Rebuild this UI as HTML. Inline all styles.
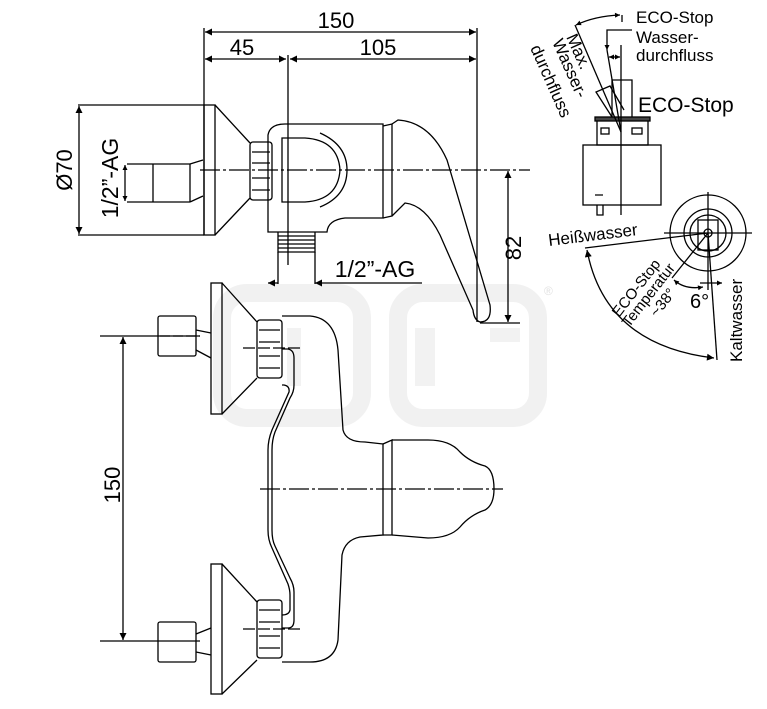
<!DOCTYPE html>
<html><head><meta charset="utf-8"><style>
html,body{margin:0;padding:0;background:#fff;}
svg{display:block;font-family:"Liberation Sans",Arial,sans-serif;}
</style></head><body>
<svg width="767" height="709" viewBox="0 0 767 709" xmlns="http://www.w3.org/2000/svg">
<defs>
<marker id="a" viewBox="0 0 10 10" refX="10" refY="5" markerWidth="10" markerHeight="7" orient="auto-start-reverse" markerUnits="userSpaceOnUse"><path d="M0,0 L10,5 L0,10z" fill="#000"/></marker>
<marker id="s" viewBox="0 0 10 10" refX="10" refY="5" markerWidth="7" markerHeight="5" orient="auto-start-reverse" markerUnits="userSpaceOnUse"><path d="M0,0 L10,5 L0,10z" fill="#000"/></marker>
</defs>
<!-- watermark -->
<g fill="none" stroke="#f1f1f1" stroke-width="18">
<rect x="222" y="293" width="140" height="125" rx="25"/>
<rect x="398" y="293" width="140" height="125" rx="25"/>
</g>
<g fill="#f2f2f2"><rect x="287" y="328" width="14" height="58"/><rect x="415" y="328" width="20" height="58"/><rect x="490" y="328" width="30" height="14"/></g>
<text x="544" y="295" font-size="12" fill="#e2e2e2">®</text>

<g stroke="#000" fill="none" stroke-width="1.3">
<!-- top dims -->
<line x1="204" y1="28" x2="204" y2="235"/>
<line x1="477" y1="28" x2="477" y2="322"/>
<line x1="205" y1="32" x2="476" y2="32" marker-start="url(#a)" marker-end="url(#a)"/>
<line x1="205" y1="59" x2="286" y2="59" marker-start="url(#a)" marker-end="url(#a)"/>
<line x1="290" y1="59" x2="476" y2="59" marker-start="url(#a)" marker-end="url(#a)"/>
<line x1="288" y1="55" x2="288" y2="265"/>
<!-- Ø70 -->
<line x1="78" y1="105" x2="204" y2="105"/>
<line x1="78" y1="235" x2="204" y2="235"/>
<line x1="79" y1="106" x2="79" y2="234" marker-start="url(#a)" marker-end="url(#a)"/>
<!-- plate & cone -->
<rect x="204" y="105" width="11" height="130"/>
<path d="M215,105 L250,143 M215,235 L250,198"/>
<!-- inlet pipe -->
<path d="M190,164 L153,164 L153,202 L190,202 M127,164 L153,164 M127,202 L153,202"/>
<path d="M190,164 L203,160 M190,202 L203,196 M190,164 L190,202"/>
<line x1="125" y1="165" x2="125" y2="201" marker-start="url(#s)" marker-end="url(#s)"/>
<!-- nut -->
<rect x="250" y="142" width="22" height="58" rx="3"/>
<path d="M252,152 L270,152 M252,163 L270,163 M252,178 L270,178 M252,190 L270,190"/>
<!-- body -->
<path d="M268,232 L268,135 Q270,124 285,124 L383,124 L383,218 L345,218 Q328,220 327,232 Z"/>
<path d="M383,126 L392,124 L392,216 L383,218"/>
<path d="M282,138 L305,138 Q338,140 340,170 Q338,200 305,202 L282,202 Z"/>
<path d="M320,133 Q347,145 347,170 Q347,196 320,207"/>
<!-- lever -->
<path d="M392,124 L398,120 Q430,122 447,160 L490,305 Q492,322 480,322 Q474,320 473,310 L440,235 Q425,205 405,203 L392,216"/>
<!-- outlet -->
<path d="M278,232 L278,252 L315,252 L315,232 M278,236 L315,236 M278,240 L315,240 M278,244 L315,244 M278,248 L315,248"/>
<path d="M278,252 L278,284 M315,252 L315,284"/>
<line x1="268" y1="283" x2="278" y2="283" marker-start="url(#a)"/>
<line x1="315" y1="283" x2="422" y2="283" marker-start="url(#a)"/>
<line x1="200" y1="170" x2="530" y2="170" stroke-dasharray="20,3,3,3"/>
<line x1="508" y1="171" x2="508" y2="322" marker-start="url(#a)" marker-end="url(#a)"/>
<line x1="480" y1="323" x2="520" y2="323"/>

<!-- bottom view -->
<rect x="211" y="283" width="11" height="131"/>
<path d="M222,283 L257,322 M222,414 L257,378"/>
<rect x="211" y="564" width="11" height="130"/>
<path d="M222,564 L257,602 M222,694 L257,660"/>
<rect x="257" y="320" width="25" height="58" rx="3"/>
<path d="M259,330 L280,330 M259,342 L280,342 M259,356 L280,356 M259,368 L280,368"/>
<rect x="257" y="600" width="25" height="58" rx="3"/>
<path d="M259,610 L280,610 M259,622 L280,622 M259,636 L280,636 M259,648 L280,648"/>
<rect x="158" y="316" width="38" height="40" rx="2"/>
<path d="M196,330 L211,333 M196,350 L211,358"/>
<rect x="158" y="622" width="38" height="40" rx="2"/>
<path d="M196,634 L211,628 M196,652 L211,655"/>
<line x1="100" y1="336" x2="200" y2="336"/>
<line x1="100" y1="641" x2="200" y2="641"/>
<line x1="123" y1="337" x2="123" y2="640" marker-start="url(#a)" marker-end="url(#a)"/>
<path d="M282,316 L310,316 Q335,318 338,350 L343,430 Q346,442 365,442 L383,444 L383,535 L360,537 Q345,540 342,555 L338,640 Q335,662 310,662 L282,662"/>
<!-- inner pipe double line -->
<path d="M282,349 L288,349 Q294,350 294,358 L294,385 Q294,392 290,398 L275,432 Q272,440 272,450 L272,530 Q272,540 275,546 L290,578 Q294,585 294,592 L294,620 Q294,628 288,628 L282,628"/>
<path d="M282,385 L284,385 Q290,386 289,392 L272,430 Q268,440 268,450 L268,530 Q268,540 272,548 L288,584 Q290,590 290,595 L290,610 Q289,615 282,615"/>
<path d="M383,444 L392,440 L392,535 L383,535"/>
<path d="M392,440 L428,440 Q450,440 460,452 Q470,462 485,466 Q494,470 494,489 Q494,505 485,510 Q470,515 460,527 Q450,538 428,538 L392,535"/>
<line x1="260" y1="489" x2="503" y2="489" stroke-dasharray="20,3,3,3"/>
<line x1="243" y1="348" x2="300" y2="348" stroke-dasharray="12,3"/>
<line x1="243" y1="629" x2="300" y2="629" stroke-dasharray="12,3"/>
<line x1="160" y1="336" x2="200" y2="336" stroke-dasharray="10,3"/>

<!-- cartridge -->
<rect x="583" y="145" width="78" height="60"/>
<rect x="597" y="120" width="51" height="25"/>
<rect x="595" y="117" width="55" height="4" fill="#444"/>
<rect x="601" y="128" width="8" height="6"/><rect x="632" y="128" width="10" height="6"/>
<path d="M612,117 L612,80 L632,80 L632,117"/>
<path d="M612,117 L596,92 L610,86 L624,110"/>
<path d="M597,205 L597,215 L603,215 L603,205 M595,195 L603,195"/>
<line x1="621" y1="45" x2="621" y2="215"/>
<line x1="621" y1="132" x2="575" y2="25"/>
<line x1="621" y1="132" x2="607" y2="50"/>
<path d="M576,25 Q595,16 620,15" marker-start="url(#s)" marker-end="url(#s)"/>
<line x1="622" y1="15" x2="622" y2="22"/>
<path d="M632,30 L607,30 L607,50" marker-end="url(#s)"/>
<line x1="609" y1="57" x2="620" y2="57" marker-start="url(#s)" marker-end="url(#s)"/>
<!-- circle -->
<circle cx="708" cy="233" r="38"/>
<circle cx="708" cy="233" r="24"/>
<circle cx="708" cy="233" r="18"/>
<rect x="698" y="220" width="20" height="30"/>
<circle cx="708" cy="233" r="4"/>
<line x1="664" y1="233" x2="752" y2="233"/>
<line x1="708" y1="192" x2="708" y2="290"/>
<line x1="585" y1="248" x2="708" y2="233"/>
<line x1="708" y1="233" x2="717" y2="360"/>
<line x1="708" y1="233" x2="672" y2="278"/>
<path d="M587,250 Q605,345 714,358" marker-start="url(#a)" marker-end="url(#a)"/>
<path d="M674,280 Q685,290 703,287" marker-start="url(#s)" marker-end="url(#s)"/>
<line x1="700" y1="283" x2="722" y2="283" marker-end="url(#s)"/>
</g>

<g font-size="22" fill="#000">
<text x="336" y="28" text-anchor="middle">150</text>
<text x="242" y="55" text-anchor="middle">45</text>
<text x="378" y="55" text-anchor="middle">105</text>
<text x="375" y="277" text-anchor="middle" font-size="23">1/2”-AG</text>
<text transform="translate(72,170) rotate(-90)" text-anchor="middle">Ø70</text>
<text transform="translate(118,178) rotate(-90)" text-anchor="middle" font-size="23">1/2”-AG</text>
<text transform="translate(521,248) rotate(-90)" text-anchor="middle">82</text>
<text transform="translate(120,485) rotate(-90)" text-anchor="middle">150</text>
<text x="638" y="112" font-size="21">ECO-Stop</text>
</g>
<g font-size="17" fill="#000">
<text x="636" y="23">ECO-Stop</text>
<text x="636" y="43">Wasser-</text>
<text x="636" y="61">durchfluss</text>
<text transform="translate(566,37) rotate(66)">Max.</text>
<text transform="translate(552,42) rotate(66)">Wasser-</text>
<text transform="translate(530,48) rotate(66)">durchfluss</text>
<text transform="translate(549,246) rotate(-7)">Heißwasser</text>
<text transform="translate(742,362) rotate(-90)">Kaltwasser</text>
<text transform="translate(619,318) rotate(-52)" font-size="15">ECO-Stop</text>
<text transform="translate(629,328) rotate(-52)" font-size="15">Temperatur</text>
<text transform="translate(657,318) rotate(-52)" font-size="15">~38°</text>
<text x="690" y="308" font-size="20">6°</text>
</g>
</svg>
</body></html>
